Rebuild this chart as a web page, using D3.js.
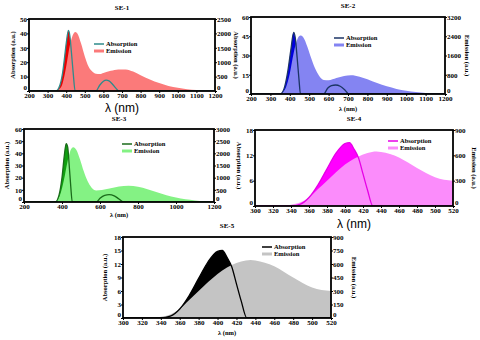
<!DOCTYPE html>
<html>
<head>
<meta charset="utf-8">
<script src="https://cdn.jsdelivr.net/npm/d3@7"></script>
<style>
  body { margin: 0; background: #fff; }
  svg { display: block; }
  text { font-family: "Liberation Serif", "Times New Roman", serif; font-weight: bold; }
</style>
</head>
<body>
<div id="chart"></div>
<script>
// ---- data (wavelength in nm, absorption on left axis, emission on right axis) ----
// SE-1
var wl1E = [340, 360, 380, 400, 420, 440, 450, 460, 480, 500, 520, 540, 560, 580, 600, 640, 680, 720, 760, 800, 850, 900, 950, 1000, 1050, 1100, 1150, 1200];
var em1 = [0, 50, 250, 850, 1600, 2000, 2050, 2000, 1650, 1200, 850, 675, 600, 590, 625, 700, 750, 750, 675, 550, 400, 275, 175, 110, 65, 35, 15, 5];
var wl1A = [200, 345, 360, 380, 390, 400, 412, 420, 428, 438, 448, 560, 580, 600, 615, 630, 650, 670, 682, 1200];
var ab1 = [0, 0, 2, 12, 22, 33, 42, 38, 27, 12, 0, 0, 4, 6.8, 7.5, 7, 4.5, 1.5, 0, 0];

// SE-2
var wl2E = [340, 360, 380, 400, 420, 440, 455, 470, 490, 510, 530, 550, 575, 600, 640, 680, 715, 760, 800, 850, 900, 950, 1000, 1050, 1100, 1150, 1200];
var em2 = [0, 53, 267, 853, 1707, 2293, 2427, 2347, 1973, 1493, 1067, 773, 587, 576, 667, 747, 779, 720, 613, 453, 320, 213, 133, 80, 43, 21, 11];
var wl2A = [200, 350, 370, 390, 405, 420, 428, 438, 447, 455, 575, 595, 615, 636, 660, 685, 705, 1200];
var ab2 = [0, 0, 4, 18, 34, 48, 44, 28, 12, 0, 0, 4.5, 6.5, 7, 6, 3, 0, 0];

// SE-3
var wl3E = [350, 370, 390, 410, 430, 450, 460, 475, 495, 515, 535, 555, 580, 610, 650, 700, 750, 800, 850, 900, 950, 1000, 1050, 1100, 1150, 1200];
var em3 = [0, 50, 300, 900, 1700, 2200, 2250, 2150, 1750, 1250, 850, 600, 475, 490, 550, 635, 670, 625, 525, 400, 275, 180, 110, 65, 35, 20];
var wl3A = [200, 365, 385, 400, 412, 422, 430, 438, 446, 454, 582, 600, 625, 648, 675, 700, 725, 1200];
var ab3 = [0, 0, 6, 20, 38, 48, 45, 30, 13, 0, 0, 3, 5.5, 6, 5, 2.5, 0, 0];

// SE-4 and SE-5 (same sample range 300-520 nm)
var wl45E = [300, 330, 340, 350, 360, 370, 380, 390, 400, 410, 420, 430, 435, 440, 450, 460, 470, 480, 490, 500, 510, 520];
var em45 = [0, 0, 15, 40, 100, 200, 300, 400, 490, 560, 610, 640, 645, 640, 615, 575, 515, 450, 390, 340, 310, 300];
var wl45A = [300, 340, 350, 360, 370, 380, 390, 400, 405, 410, 415, 420, 425, 431, 520];
var ab45 = [0, 0, 0.4, 2, 5, 8.8, 12.5, 14.8, 15, 13.5, 11.4, 7.6, 3.8, 0, 0];

// tick labels
var xTicksWide = [200, 300, 400, 500, 600, 700, 800, 900, 1000, 1100, 1200];
var xTicksWide3 = [200, 400, 600, 800, 1000, 1200];
var xTicksNarrow = [300, 320, 340, 360, 380, 400, 420, 440, 460, 480, 500, 520];
var yL1 = [0, 10, 20, 30, 40, 50], yR1 = [0, 500, 1000, 1500, 2000, 2500];
var yL2 = [0, 15, 30, 45, 60], yR2 = [0, 800, 1600, 2400, 3200];
var yL3 = [0, 10, 20, 30, 40, 50, 60], yR3 = [0, 500, 1000, 1500, 2000, 2500, 3000];
var yL4 = [0, 6, 12, 18], yR4 = [0, 300, 600, 900];
var yL5 = [0, 3, 6, 9, 12, 15, 18], yR5 = [0, 150, 300, 450, 600, 750, 900];

var w = 480, h = 340;
var svg = d3.select("#chart").append("svg").attr("width", w).attr("height", h);

var panels = [
  { title: "SE-1", box: [29, 19, 215, 91], titleY: 10, wlE: wl1E, em: em1, wlA: wl1A, ab: ab1,
    xt: xTicksWide, yl: yL1, yr: yR1, leftTitle: "Absorption (a.u.)", leftX: 13, rightTitle: "Absorption (a.u.)", rightX: 236,
    xLabelBig: true, xLabelY: 112, legend: [94, 44],
    emColor: "#fb7a7a", abFill: "#e80000", abLine: "#2e8b8b" },
  { title: "SE-2", box: [251, 17, 445, 94], titleY: 8, wlE: wl2E, em: em2, wlA: wl2A, ab: ab2,
    xt: xTicksWide, yl: yL2, yr: yR2, leftTitle: null, rightTitle: "Emission (a.u.)", rightX: 467,
    xLabelBig: false, xLabelY: 111, legend: [334, 38],
    emColor: "#8484f2", abFill: "#0000dd", abLine: "#1c3566" },
  { title: "SE-3", box: [24, 129, 214, 202], titleY: 121, wlE: wl3E, em: em3, wlA: wl3A, ab: ab3,
    xt: xTicksWide3, yl: yL3, yr: yR3, leftTitle: "Absorption (a.u.)", leftX: 7, rightTitle: "Absorption (a.u.)", rightX: 239,
    xLabelBig: false, xLabelY: 217, legend: [122, 144],
    emColor: "#84f284", abFill: "#0fa00f", abLine: "#1a6b1a" },
  { title: "SE-4", box: [255, 130, 453, 206], titleY: 121, wlE: wl45E, em: em45, wlA: wl45A, ab: ab45,
    xt: xTicksNarrow, yl: yL4, yr: yR4, leftTitle: null, rightTitle: "Emission (a.u.)", rightX: 474,
    xLabelBig: true, xLabelY: 228, legend: [388, 141],
    emColor: "#fb8cfb", abFill: "#ff00ff", abLine: "#e600e6" },
  { title: "SE-5", box: [123, 237, 331, 318], titleY: 228, wlE: wl45E, em: em45, wlA: wl45A, ab: ab45,
    xt: xTicksNarrow, yl: yL5, yr: yR5, leftTitle: "Absorption (a.u.)", leftX: 105, rightTitle: "Emission (a.u.)", rightX: 354,
    xLabelBig: false, xLabelY: 335, legend: [262, 247],
    emColor: "#c4c4c4", abFill: "#000000", abLine: "#000000" }
];

panels.forEach(function (p) {
  var x0 = p.box[0], y0 = p.box[1], x1 = p.box[2], y1 = p.box[3];
  var g = svg.append("g");

  var xScale = d3.scaleLinear().domain([p.xt[0], p.xt[p.xt.length - 1]]).range([x0, x1]);
  var yLeft = d3.scaleLinear().domain([0, d3.max(p.yl)]).range([y1, y0]);
  var yRight = d3.scaleLinear().domain([0, d3.max(p.yr)]).range([y1, y0]);

  var clipId = "clip-" + p.title;
  g.append("clipPath").attr("id", clipId)
    .append("rect").attr("x", x0).attr("y", y0).attr("width", x1 - x0).attr("height", y1 - y0);
  var plot = g.append("g").attr("clip-path", "url(#" + clipId + ")");

  var absData = p.wlA.map(function (d, i) { return [d, p.ab[i]]; });
  var emData = p.wlE.map(function (d, i) { return [d, p.em[i]]; });

  // absorption fill first, emission over it, absorption line on top
  plot.append("path").datum(absData)
    .attr("fill", p.abFill)
    .attr("d", d3.area().curve(d3.curveMonotoneX)
      .x(function (d) { return xScale(d[0]); })
      .y0(y1).y1(function (d) { return yLeft(d[1]); }));

  plot.append("path").datum(emData)
    .attr("fill", p.emColor)
    .attr("d", d3.area().curve(d3.curveMonotoneX)
      .x(function (d) { return xScale(d[0]); })
      .y0(y1).y1(function (d) { return yRight(d[1]); }));

  plot.append("path").datum(absData)
    .attr("fill", "none").attr("stroke", p.abLine).attr("stroke-width", 1.3)
    .attr("d", d3.line().curve(d3.curveMonotoneX)
      .x(function (d) { return xScale(d[0]); })
      .y(function (d) { return yLeft(d[1]); }));

  // axes
  var fmt = d3.format("d");
  var xAxis = g.append("g").attr("transform", "translate(0," + y1 + ")")
    .call(d3.axisBottom(xScale).tickValues(p.xt).tickFormat(fmt).tickSize(2).tickSizeOuter(0));
  var lAxis = g.append("g").attr("transform", "translate(" + x0 + ",0)")
    .call(d3.axisLeft(yLeft).tickValues(p.yl).tickFormat(fmt).tickSize(2).tickSizeOuter(0));
  var rAxis = g.append("g").attr("transform", "translate(" + x1 + ",0)")
    .call(d3.axisRight(yRight).tickValues(p.yr).tickFormat(fmt).tickSize(2).tickSizeOuter(0));
  [xAxis, lAxis, rAxis].forEach(function (a) {
    a.select(".domain").remove();
    a.selectAll("text").attr("font-family", "Liberation Serif").attr("font-weight", "bold")
      .attr("font-size", 7).attr("fill", "#000");
  });
  xAxis.selectAll("text").attr("dy", "0.6em").attr("y", 3);
  lAxis.selectAll("text").attr("x", -2);
  rAxis.selectAll("text").attr("x", 2);
  // the zero labels sit a little higher, as in the source figure
  lAxis.selectAll(".tick text").filter(function (d) { return d === 0; }).attr("dy", "-0.2em");
  rAxis.selectAll(".tick text").filter(function (d) { return d === 0; }).attr("dy", "-0.2em");

  // frame
  g.append("rect").attr("x", x0).attr("y", y0).attr("width", x1 - x0).attr("height", y1 - y0)
    .attr("fill", "none").attr("stroke", "#000").attr("stroke-width", 1.8);

  // titles
  g.append("text").attr("x", (x0 + x1) / 2).attr("y", p.titleY).attr("text-anchor", "middle")
    .attr("font-size", 7).text(p.title);

  var cy = (y0 + y1) / 2;
  if (p.leftTitle) {
    g.append("text").attr("transform", "translate(" + p.leftX + "," + cy + ") rotate(-90)")
      .attr("text-anchor", "middle").attr("dy", "0.35em").attr("font-size", 6.5).text(p.leftTitle);
  }
  g.append("text").attr("transform", "translate(" + p.rightX + "," + cy + ") rotate(90)")
    .attr("text-anchor", "middle").attr("dy", "0.35em").attr("font-size", 6.5).text(p.rightTitle);

  if (p.xLabelBig) {
    g.append("text").attr("x", (x0 + x1) / 2).attr("y", p.xLabelY).attr("text-anchor", "middle")
      .style("font-family", "'Liberation Sans', Arial, sans-serif").style("font-weight", "normal")
      .attr("font-size", 12).text("λ (nm)");
  } else {
    g.append("text").attr("x", (x0 + x1) / 2).attr("y", p.xLabelY).attr("text-anchor", "middle")
      .attr("font-size", 6.5).text("λ (nm)");
  }

  // legend
  var lx = p.legend[0], ly = p.legend[1];
  var leg = [["Absorption", p.abLine, 1.5], ["Emission", p.emColor, 3]];
  leg.forEach(function (d, i) {
    var yy = ly + i * 7;
    g.append("line").attr("x1", lx).attr("x2", lx + 10).attr("y1", yy).attr("y2", yy)
      .attr("stroke", d[1]).attr("stroke-width", d[2]);
    g.append("text").attr("x", lx + 12).attr("y", yy).attr("dy", "0.35em")
      .attr("font-size", 6.5).text(d[0]);
  });
});
</script>
</body>
</html>
